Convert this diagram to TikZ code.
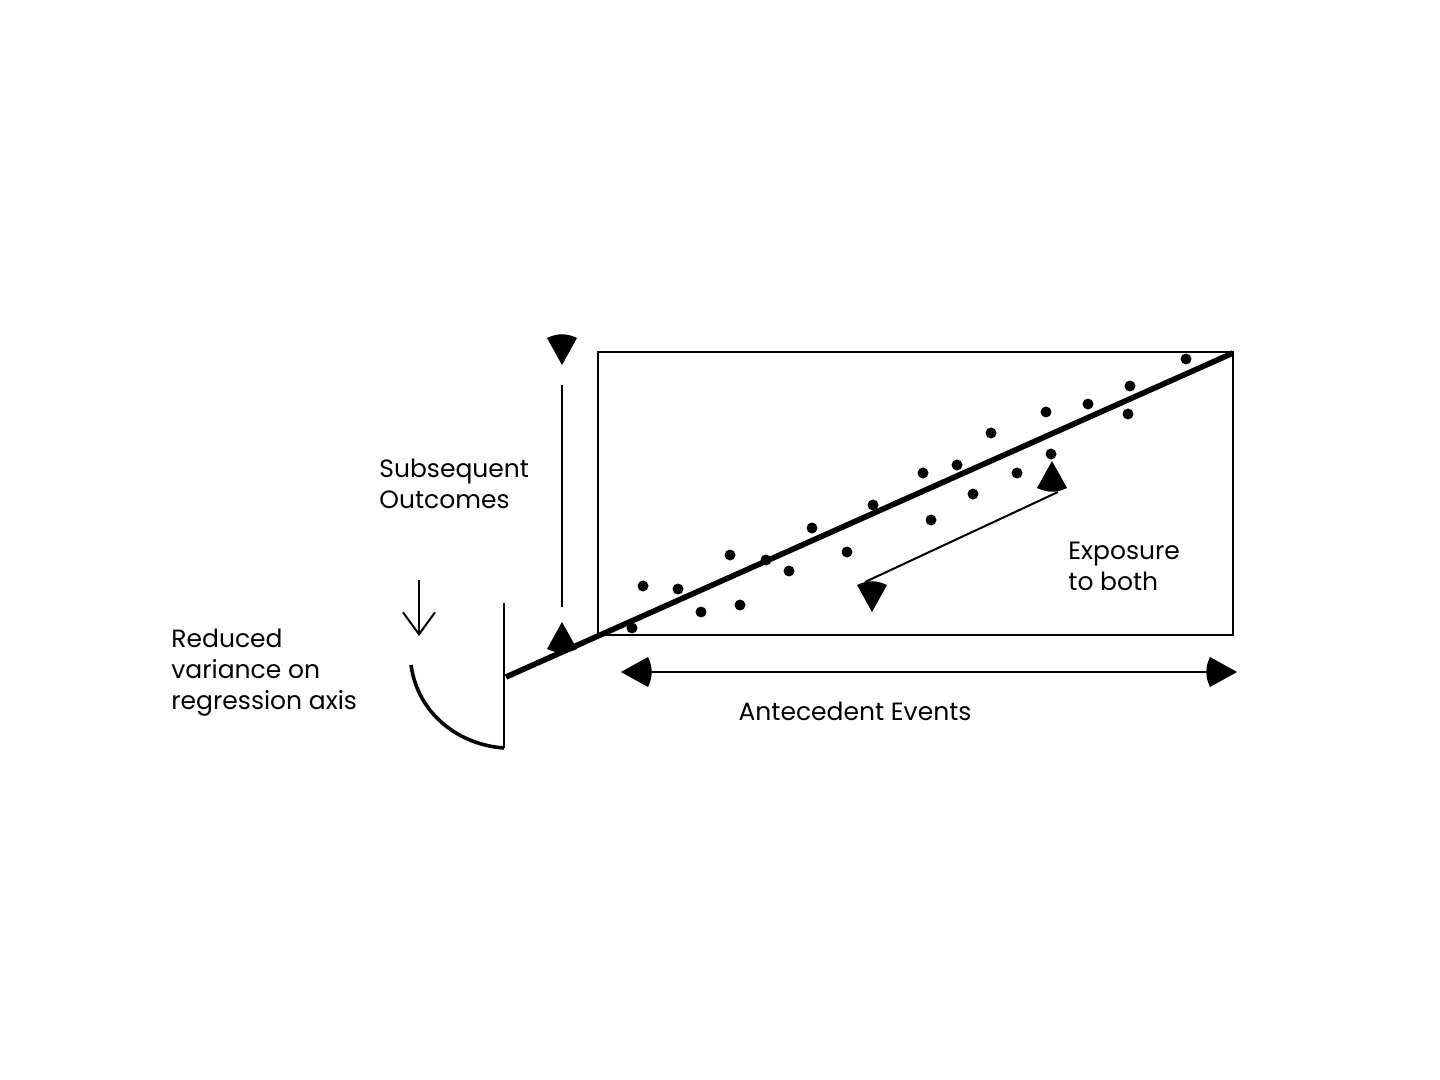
\documentclass[tikz,border=0pt]{standalone}
\usepackage{fontspec}
\setmainfont{Poppins}
\usetikzlibrary{arrows.meta}

\begin{document}
\begin{tikzpicture}
[x=0.5pt,y=-0.5pt,
  lineDecorate/.style={-,line width=1pt},
  axisDecorate/.style={-,line width=2.8pt},
  dotDecorate/.style={shape=circle,fill,inner sep=0pt,minimum size=5.5pt},
  textDecorate/.style={align=left,inner sep=0pt,font=\fontsize{12.5}{15.5}\selectfont},
  tipDecorate/.pic={\fill (0,0) -- (-27,-15) to[bend right=25] (-27,15) -- cycle;}]
\useasboundingbox (0,0) rectangle (1440,1080);
%% frame and regression axis
\draw[lineDecorate] (598,352) rectangle (1233,635);
\coordinate (axisStart) at (506,677);
\coordinate (axisEnd) at (1233,353);
\draw[axisDecorate] (axisStart) -- (axisEnd);
%% data points
\foreach \dotname/\x/\y in {
  p1/632/628, p2/643/586, p3/678/589, p4/701/612, p5/730/555,
  p6/740/605, p7/766/560, p8/789/571, p9/812/528, p10/847/552,
  p11/873/505, p12/923/473, p13/931/520, p14/957/465, p15/973/494,
  p16/991/433, p17/1017/473, p18/1046/412, p19/1051/454, p20/1088/404,
  p21/1128/414, p22/1130/386, p23/1186/359}
{
  \node (\dotname) at (\x,\y) [dotDecorate] {};
}
%% axes of the plot
\coordinate (outTop) at (562,385);
\coordinate (outBottom) at (562,607);
\draw[lineDecorate] (outTop) -- (outBottom);
\pic at (562,365) [rotate=-90] {tipDecorate};
\pic at (562,622) [rotate=90] {tipDecorate};
\coordinate (antLeft) at (640,672);
\coordinate (antRight) at (1215,672);
\draw[lineDecorate] (antLeft) -- (antRight);
\pic at (621,672) [rotate=180] {tipDecorate};
\pic at (1237,672) {tipDecorate};
%% exposure arrow
\coordinate (expStart) at (1058,492);
\coordinate (expEnd) at (865,582);
\draw[lineDecorate] (expStart) -- (expEnd);
\pic at (1052,461) [rotate=90] {tipDecorate};
\pic at (872,612) [rotate=-90] {tipDecorate};
%% reduced variance
\coordinate (dropStart) at (419,580);
\coordinate (dropEnd) at (419,636);
\draw[lineDecorate,-{Straight Barb[length=11pt,width=16pt]}] (dropStart) -- (dropEnd);
\coordinate (varTop) at (504,603);
\coordinate (varBottom) at (504,748);
\draw[lineDecorate] (varTop) -- (varBottom);
\coordinate (curveStart) at (411,665);
\draw[line width=1.8pt] (curveStart) .. controls (418,715) and (460,745) .. (varBottom);
%% labels
\node (outLabel) at (379,484) [textDecorate,anchor=west] {Subsequent\\Outcomes};
\node (varLabel) at (171,673) [textDecorate,anchor=west] {Reduced\\variance on\\regression axis};
\node (expLabel) at (1068,566) [textDecorate,anchor=west] {Exposure\\to both};
\node (antLabel) at (855,711) [textDecorate] {Antecedent Events};
\end{tikzpicture}
\end{document}
